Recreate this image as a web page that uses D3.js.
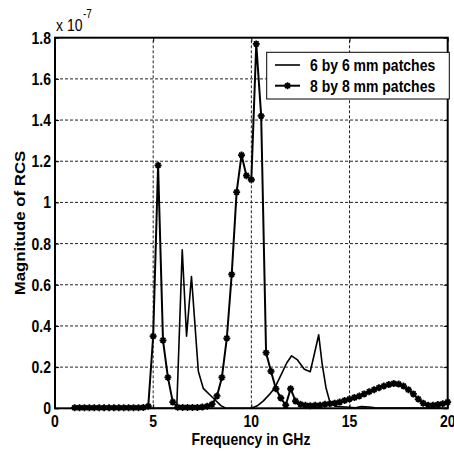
<!DOCTYPE html>
<html><head><meta charset="utf-8">
<script src="https://cdn.jsdelivr.net/npm/d3@7"></script>
<style>
html,body{margin:0;padding:0;background:#fff;}
svg{display:block;font-family:"Liberation Sans",Arial,sans-serif;}
</style></head>
<body>
<svg id="chart" width="454" height="452"></svg>
<script>
// ---- data ----
const seriesNames = ["6 by 6 mm patches", "8 by 8 mm patches"];
const xTicks = [0, 5, 10, 15, 20];
const yTicks = [0, 0.2, 0.4, 0.6, 0.8, 1, 1.2, 1.4, 1.6, 1.8];
const yTickLabels = ["0", "0.2", "0.4", "0.6", "0.8", "1", "1.2", "1.4", "1.6", "1.8"];

// 6 by 6 mm patches (frequency GHz, magnitude x1e-7)
const freq6 = [1, 6.2, 6.48, 6.7, 6.95, 7.3, 7.55, 8.0, 8.45, 8.7, 10.0, 10.3, 10.6, 10.9, 11.2, 11.5, 11.8, 12.05, 12.35, 12.7, 13.0, 13.2, 13.43, 13.6, 13.8, 14.0, 14.3, 15.3, 15.6, 16.0, 16.3, 20];
const rcs6  = [0, 0, 0.77, 0.35, 0.64, 0.18, 0.097, 0.055, 0.013, 0, 0, 0.012, 0.035, 0.065, 0.1, 0.16, 0.22, 0.255, 0.235, 0.19, 0.178, 0.26, 0.357, 0.22, 0.1, 0.03, 0.01, 0.003, 0.008, 0.006, 0.002, 0];

// 8 by 8 mm patches
const freq8 = [1, 1.25, 1.5, 1.75, 2, 2.25, 2.5, 2.75, 3, 3.25, 3.5, 3.75, 4, 4.25, 4.5, 4.75,
  5, 5.25, 5.5, 5.75, 6, 6.25, 6.5, 6.75, 7, 7.25, 7.5, 7.75, 8, 8.25, 8.5, 8.75,
  9, 9.25, 9.5, 9.75, 10, 10.25, 10.5, 10.75, 11, 11.25, 11.5, 11.75, 12, 12.25, 12.5, 12.75,
  13, 13.25, 13.5, 13.75, 14, 14.25, 14.5, 14.75, 15, 15.25, 15.5, 15.75, 16, 16.25, 16.5, 16.75,
  17, 17.25, 17.5, 17.75, 18, 18.25, 18.5, 18.75, 19, 19.25, 19.5, 19.75, 20];
const rcs8 = [0.003, 0.003, 0.003, 0.003, 0.003, 0.003, 0.003, 0.003, 0.003, 0.003, 0.003, 0.003, 0.003, 0.003, 0.004, 0.01,
  0.35, 1.18, 0.33, 0.15, 0.03, 0.005, 0.004, 0.004, 0.004, 0.004, 0.006, 0.01, 0.02, 0.06, 0.15, 0.34,
  0.65, 1.05, 1.23, 1.13, 1.11, 1.77, 1.42, 0.27, 0.18, 0.095, 0.05, 0.015, 0.095, 0.035, 0.02, 0.015,
  0.012, 0.015, 0.015, 0.02, 0.022, 0.025, 0.03, 0.038, 0.045, 0.052, 0.06, 0.07, 0.08, 0.09, 0.1, 0.108,
  0.115, 0.12, 0.118, 0.108, 0.09, 0.07, 0.045, 0.025, 0.015, 0.015, 0.018, 0.022, 0.03];

// ---- drawing ----
const svg = d3.select("#chart");
const L = 55, R = 447.7, T = 37.7, B = 408.3;
const x = d3.scaleLinear().domain([0, 20]).range([L, R]);
const y = d3.scaleLinear().domain([0, 1.8]).range([B, T]);
const SY = 1.2; // vertical stretch of the text in the reference

// grid
const grid = svg.append("g").attr("stroke", "#222").attr("stroke-width", 1).attr("stroke-dasharray", "3,2");
xTicks.slice(1, -1).forEach(t => grid.append("line").attr("x1", x(t)).attr("x2", x(t)).attr("y1", B).attr("y2", T));
yTicks.slice(1, -1).forEach(t => grid.append("line").attr("x1", L).attr("x2", R).attr("y1", y(t)).attr("y2", y(t)));

// axes via d3 axis (inside ticks)
const axB = svg.append("g").attr("transform", `translate(0,${B})`)
  .call(d3.axisBottom(x).tickValues(xTicks).tickSize(-4).tickFormat(""));
const axT = svg.append("g").attr("transform", `translate(0,${T})`)
  .call(d3.axisTop(x).tickValues(xTicks).tickSize(-4).tickFormat(""));
const axL = svg.append("g").attr("transform", `translate(${L},0)`)
  .call(d3.axisLeft(y).tickValues(yTicks).tickSize(-4).tickFormat(""));
const axR = svg.append("g").attr("transform", `translate(${R},0)`)
  .call(d3.axisRight(y).tickValues(yTicks).tickSize(-4).tickFormat(""));
[axB, axT, axL, axR].forEach(a => {
  a.select(".domain").remove();
  a.selectAll("line").attr("stroke", "#000").attr("stroke-width", 1);
});

// tick labels
yTicks.forEach((t, i) => {
  svg.append("text").attr("transform", `translate(51,${y(t)}) scale(1,${SY})`)
    .attr("text-anchor", "end").attr("dominant-baseline", "central")
    .attr("font-size", 14).attr("font-weight", "bold").text(yTickLabels[i]);
});
xTicks.forEach(t => {
  svg.append("text").attr("transform", `translate(${x(t)},427) scale(1,${SY})`)
    .attr("text-anchor", "middle")
    .attr("font-size", 14).attr("font-weight", "bold").text(String(t));
});

// exponent label
svg.append("text").attr("transform", `translate(56,31) scale(1,${SY})`)
  .attr("font-size", 14).text("x 10");
svg.append("text").attr("transform", `translate(83,18) scale(1,${SY})`)
  .attr("font-size", 10).text("-7");

// axis titles
svg.append("text").attr("transform", `translate(251,445) scale(1,${SY})`)
  .attr("text-anchor", "middle").attr("font-size", 14).attr("font-weight", "bold")
  .text("Frequency in GHz");
svg.append("text").attr("transform", `translate(25,223) rotate(-90) scale(${SY},1)`)
  .attr("text-anchor", "middle").attr("font-size", 14).attr("font-weight", "bold")
  .text("Magnitude of RCS");

// data lines
const line = d3.line().x(d => x(d[0])).y(d => y(d[1]));
const d6 = freq6.map((f, i) => [f, rcs6[i]]);
const d8 = freq8.map((f, i) => [f, rcs8[i]]);

svg.append("path").attr("d", line(d6)).attr("fill", "none")
  .attr("stroke", "#000").attr("stroke-width", 1.6).attr("stroke-linejoin", "round");
svg.append("path").attr("d", line(d8)).attr("fill", "none")
  .attr("stroke", "#000").attr("stroke-width", 2).attr("stroke-linejoin", "round");

const star = "M-3.5,0H3.5M0,-3.5V3.5M-2.4,-2.4L2.4,2.4M-2.4,2.4L2.4,-2.4";
svg.append("g").selectAll("path").data(d8).join("path")
  .attr("transform", d => `translate(${x(d[0])},${y(d[1])})`)
  .attr("d", star).attr("stroke", "#000").attr("stroke-width", 1.8).attr("fill", "none");

// frame
svg.append("rect").attr("x", L).attr("y", T).attr("width", R - L).attr("height", B - T)
  .attr("fill", "none").attr("stroke", "#000").attr("stroke-width", 2);

// legend
const lg = svg.append("g");
lg.append("rect").attr("x", 266.7).attr("y", 52.3).attr("width", 182.6).attr("height", 46.7)
  .attr("fill", "#fff").attr("stroke", "#000").attr("stroke-width", 1);
const rowsY = [65, 85.7];
lg.append("line").attr("x1", 275).attr("x2", 300).attr("y1", rowsY[0]).attr("y2", rowsY[0])
  .attr("stroke", "#000").attr("stroke-width", 1.6);
lg.append("line").attr("x1", 275).attr("x2", 300).attr("y1", rowsY[1]).attr("y2", rowsY[1])
  .attr("stroke", "#000").attr("stroke-width", 2);
lg.append("path").attr("transform", `translate(287.5,${rowsY[1]})`).attr("d", star)
  .attr("stroke", "#000").attr("stroke-width", 1.8).attr("fill", "none");
seriesNames.forEach((n, i) => {
  lg.append("text").attr("transform", `translate(310,${rowsY[i]}) scale(1,${SY})`)
    .attr("dominant-baseline", "central").attr("font-size", 14).attr("font-weight", "bold").text(n);
});
</script>
</body></html>
